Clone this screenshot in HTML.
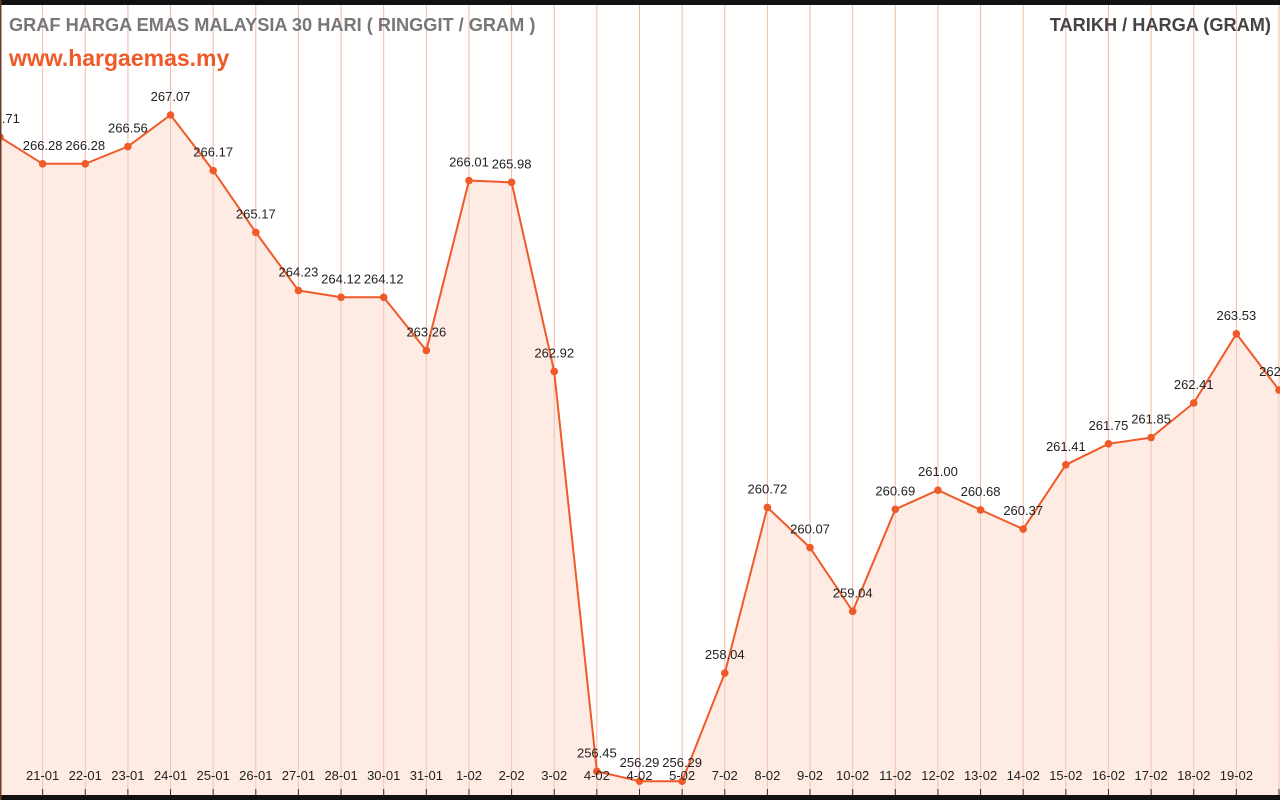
<!DOCTYPE html>
<html><head><meta charset="utf-8"><style>
html,body{margin:0;padding:0;background:#fff;}
svg{display:block;font-family:"Liberation Sans",Arial,sans-serif;}
</style></head><body>
<svg width="1280" height="800" viewBox="0 0 1280 800" xmlns="http://www.w3.org/2000/svg">
<rect width="1280" height="800" fill="#fff"/>
<g id="grid" stroke="#f3b8a2" stroke-width="1"></g>
<path id="fill" fill="#fdebe4" stroke="none"/>
<g id="grid2" stroke="#f5c3b0" stroke-width="1"></g>
<polyline id="line" fill="none" stroke="#f05a28" stroke-width="2"/>
<g id="dots" fill="#f05a28"></g>
<g id="vals" font-size="13" fill="#222" text-anchor="middle"></g>
<g id="dates" font-size="13" fill="#222" text-anchor="middle"></g>
<rect x="0" y="0" width="1280" height="5" fill="#111"/>
<rect x="0" y="795" width="1280" height="5" fill="#111"/>
<rect x="0" y="0" width="1.5" height="800" fill="#6b3a2a"/>
<text x="9" y="31" font-size="18.2" font-weight="bold" fill="#777">GRAF HARGA EMAS MALAYSIA 30 HARI ( RINGGIT / GRAM )</text>
<text x="9" y="66" font-size="23" font-weight="bold" fill="#f05a28">www.hargaemas.my</text>
<text x="1271" y="31" font-size="18.2" font-weight="bold" fill="#444" text-anchor="end">TARIKH / HARGA (GRAM)</text>
</svg>
<script>
var v=[266.71,266.28,266.28,266.56,267.07,266.17,265.17,264.23,264.12,264.12,263.26,266.01,265.98,262.92,256.45,256.29,256.29,258.04,260.72,260.07,259.04,260.69,261.00,260.68,260.37,261.41,261.75,261.85,262.41,263.53,262.62];
var d=["20-01","21-01","22-01","23-01","24-01","25-01","26-01","27-01","28-01","30-01","31-01","1-02","2-02","3-02","4-02","4-02","5-02","7-02","8-02","9-02","10-02","11-02","12-02","13-02","14-02","15-02","16-02","17-02","18-02","19-02",""];
var ns="http://www.w3.org/2000/svg",sp=1279/30;
function X(i){return i*sp;}function Y(x){return 115+(267.07-x)*61.8;}
var pts=[],g=document.getElementById('grid'),g2=document.getElementById('grid2'),dots=document.getElementById('dots'),vals=document.getElementById('vals'),dates=document.getElementById('dates');
function el(t,a,p,txt){var e=document.createElementNS(ns,t);for(var k in a)e.setAttribute(k,a[k]);if(txt)e.textContent=txt;p.appendChild(e);}
for(var i=0;i<v.length;i++){var x=X(i),y=Y(v[i]);pts.push(x.toFixed(1)+","+y.toFixed(1));
el('line',{x1:x,y1:5,x2:x,y2:795},g);
el('line',{x1:x,y1:y,x2:x,y2:795},g2);
el('line',{x1:x,y1:789,x2:x,y2:795,stroke:'#333'},g2);
el('circle',{cx:x,cy:y,r:3.8},dots);
el('text',{x:x,y:y-14},vals,v[i].toFixed(2));
if(d[i]&&i>0)el('text',{x:x,y:780},dates,d[i]);}
document.getElementById('line').setAttribute('points',pts.join(' '));
document.getElementById('fill').setAttribute('d','M0,795 L'+pts.join(' L')+' L1280,795 Z');
</script>
</body></html>
